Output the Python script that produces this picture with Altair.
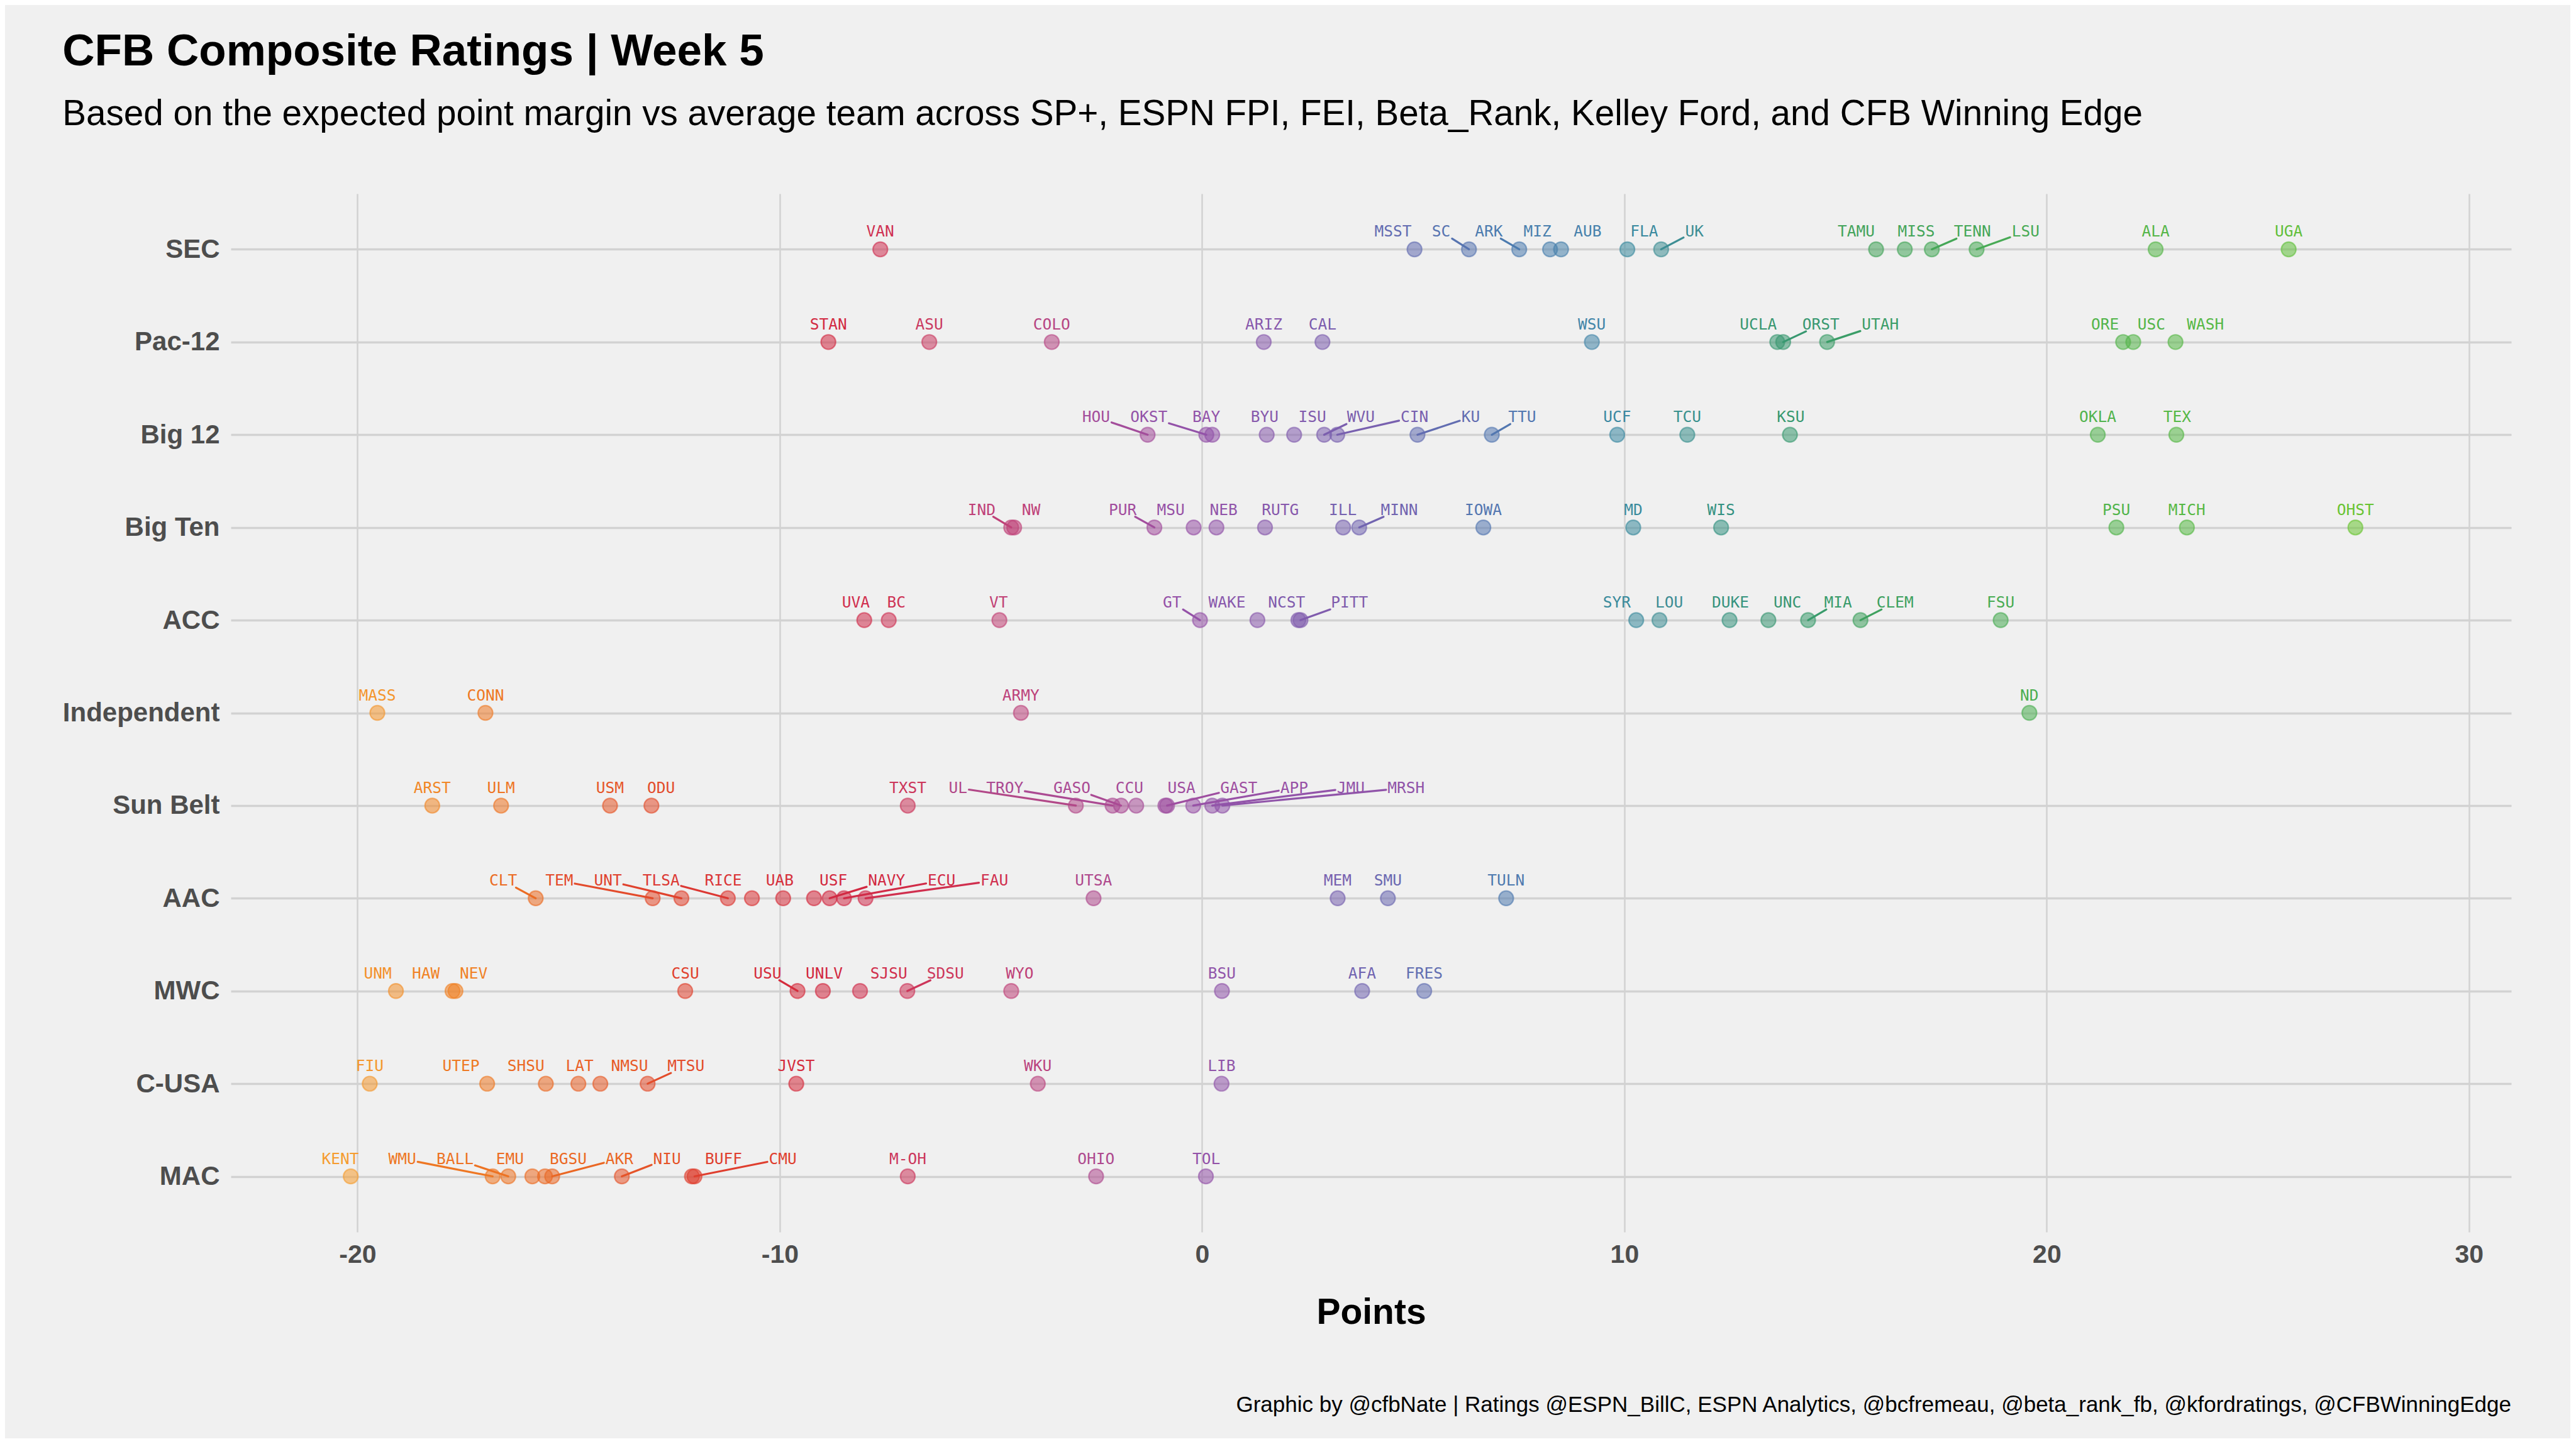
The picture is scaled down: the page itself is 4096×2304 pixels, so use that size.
import altair as alt
import pandas as pd

conferences = ["SEC", "Pac-12", "Big 12", "Big Ten", "ACC", "Independent",
               "Sun Belt", "AAC", "MWC", "C-USA", "MAC"]

teams = [
    # SEC
    "VAN", "MSST", "SC", "ARK", "MIZ", "AUB", "FLA", "UK", "TAMU", "MISS", "TENN", "LSU", "ALA", "UGA",
    # Pac-12
    "STAN", "ASU", "COLO", "ARIZ", "CAL", "WSU", "UCLA", "ORST", "UTAH", "ORE", "USC", "WASH",
    # Big 12
    "HOU", "OKST", "BAY", "BYU", "ISU", "WVU", "CIN", "KU", "TTU", "UCF", "TCU", "KSU", "OKLA", "TEX",
    # Big Ten
    "IND", "NW", "PUR", "MSU", "NEB", "RUTG", "ILL", "MINN", "IOWA", "MD", "WIS", "PSU", "MICH", "OHST",
    # ACC
    "UVA", "BC", "VT", "GT", "WAKE", "NCST", "PITT", "SYR", "LOU", "DUKE", "UNC", "MIA", "CLEM", "FSU",
    # Independent
    "MASS", "CONN", "ARMY", "ND",
    # Sun Belt
    "ARST", "ULM", "USM", "ODU", "TXST", "UL", "TROY", "GASO", "CCU", "USA", "GAST", "APP", "JMU", "MRSH",
    # AAC
    "CLT", "TEM", "UNT", "TLSA", "RICE", "UAB", "USF", "NAVY", "ECU", "FAU", "UTSA", "MEM", "SMU", "TULN",
    # MWC
    "UNM", "HAW", "NEV", "CSU", "USU", "UNLV", "SJSU", "SDSU", "WYO", "BSU", "AFA", "FRES",
    # C-USA
    "FIU", "UTEP", "SHSU", "LAT", "NMSU", "MTSU", "JVST", "WKU", "LIB",
    # MAC
    "KENT", "WMU", "BALL", "EMU", "BGSU", "AKR", "NIU", "BUFF", "CMU", "M-OH", "OHIO", "TOL",
]

team_conf = (["SEC"] * 14 + ["Pac-12"] * 12 + ["Big 12"] * 14 + ["Big Ten"] * 14 +
             ["ACC"] * 14 + ["Independent"] * 4 + ["Sun Belt"] * 14 + ["AAC"] * 14 +
             ["MWC"] * 12 + ["C-USA"] * 9 + ["MAC"] * 12)

ratings = [
    -7.62, 5.03, 6.32, 7.51, 8.24, 8.50, 10.07, 10.87, 15.96, 16.64, 17.28, 18.34, 22.58, 25.73,
    -8.85, -6.46, -3.56, 1.46, 2.85, 9.23, 13.62, 13.76, 14.80, 21.81, 22.05, 23.05,
    -1.29, 0.10, 0.24, 1.53, 2.18, 2.89, 3.20, 5.10, 6.86, 9.83, 11.49, 13.92, 21.21, 23.07,
    -4.52, -4.45, -1.13, -0.20, 0.34, 1.49, 3.34, 3.72, 6.66, 10.21, 12.29, 21.65, 23.32, 27.31,
    -8.00, -7.42, -4.80, -0.05, 1.31, 2.28, 2.33, 10.28, 10.83, 12.49, 13.41, 14.35, 15.59, 18.91,
    -19.53, -16.97, -4.29, 19.59,
    -18.23, -16.60, -14.02, -13.04, -6.97, -2.99, -2.12, -1.92, -1.56, -0.87, -0.83, -0.21, 0.24, 0.48,
    -15.78, -13.01, -12.33, -11.23, -10.66, -9.92, -9.19, -8.82, -8.48, -7.97, -2.57, 3.21, 4.40, 7.20,
    -19.09, -17.75, -17.68, -12.24, -9.58, -8.98, -8.10, -6.98, -4.52, 0.47, 3.79, 5.26,
    -19.71, -16.93, -15.54, -14.77, -14.25, -13.13, -9.61, -3.89, 0.46,
    -20.16, -16.80, -16.43, -15.86, -15.56, -15.39, -13.74, -12.08, -12.02, -6.97, -2.51, 0.09,
]

# repelled label positions (points scale)
label_x = [
    -7.62, 4.52, 5.66, 6.79, 7.94, 9.13, 10.47, 11.66, 15.49, 16.91, 18.24, 19.50, 22.58, 25.73,
    -8.85, -6.46, -3.56, 1.46, 2.85, 9.23, 13.17, 14.65, 16.06, 21.38, 22.48, 23.76,
    -2.51, -1.26, 0.10, 1.48, 2.61, 3.76, 5.03, 6.36, 7.58, 9.83, 11.49, 13.94, 21.21, 23.09,
    -5.22, -4.05, -1.88, -0.74, 0.51, 1.85, 3.33, 4.67, 6.66, 10.21, 12.29, 21.65, 23.32, 27.31,
    -8.20, -7.24, -4.82, -0.71, 0.59, 2.00, 3.49, 9.82, 11.06, 12.51, 13.86, 15.06, 16.41, 18.91,
    -19.53, -16.97, -4.29, 19.59,
    -18.23, -16.60, -14.02, -12.81, -6.97, -5.78, -4.67, -3.08, -1.72, -0.49, 0.87, 2.18, 3.52, 4.83,
    -16.55, -15.22, -14.07, -12.81, -11.34, -10.00, -8.73, -7.47, -6.17, -4.92, -2.57, 3.21, 4.40, 7.20,
    -19.52, -18.38, -17.25, -12.24, -10.29, -8.95, -7.42, -6.08, -4.32, 0.47, 3.79, 5.26,
    -19.71, -17.55, -16.01, -14.74, -13.56, -12.22, -9.61, -3.89, 0.46,
    -20.41, -18.94, -17.69, -16.39, -15.01, -13.80, -12.67, -11.33, -9.93, -6.97, -2.51, 0.10,
]

leader_teams = ["SC", "ARK", "UK", "TENN", "LSU", "ORST", "UTAH", "HOU", "OKST", "WVU", "CIN",
                "KU", "TTU", "IND", "PUR", "MINN", "GT", "PITT", "MIA", "CLEM", "UL", "TROY",
                "GASO", "GAST", "APP", "JMU", "MRSH", "CLT", "TEM", "UNT", "TLSA", "NAVY", "ECU",
                "FAU", "USU", "SDSU", "MTSU", "WMU", "BALL", "AKR", "NIU", "CMU"]

x_ticks = [-20, -10, 0, 10, 20, 30]

color_stops = [-20, -16, -12, -9, -6, -3, 0, 3, 6, 9, 11, 13, 16, 20]
color_range = ["#F59A2E", "#EC6E22", "#DF3E2E", "#D2283F", "#C83E66", "#B24888", "#9452A8",
               "#7A5EAE", "#5A72B0", "#4683AA", "#3F8E92", "#3A9475", "#43A35A", "#4CAF50"]

TITLE = "CFB Composite Ratings | Week 5"
SUBTITLE = ("Based on the expected point margin vs average team across SP+, ESPN FPI, FEI, "
            "Beta_Rank, Kelley Ford, and CFB Winning Edge")
CAPTION = ("Graphic by @cfbNate | Ratings @ESPN_BillC, ESPN Analytics, @bcfremeau, "
           "@beta_rank_fb, @kfordratings, @CFBWinningEdge")

# ---------------------------------------------------------------- layout
W, H = 3626, 1651
X_DOM = [-23, 31]
Y_DOM = [-0.6, len(conferences) - 1 + 0.6]
PX_PT = W / (X_DOM[1] - X_DOM[0])
PX_ROW = H / (Y_DOM[1] - Y_DOM[0])

df = pd.DataFrame({"team": teams, "conf": team_conf, "rating": ratings, "label_x": label_x})
df["row"] = df["conf"].map({c: i for i, c in enumerate(conferences)})

# leader segments: from the label box edge (ggrepel-like) to the point
seg_rows = []
LAB_CY = -28.0   # label centre above point, px
for _, r in df[df["team"].isin(leader_teams)].iterrows():
    dx = (r["rating"] - r["label_x"]) * PX_PT
    hw = len(r["team"]) * 7.2 + 3
    hh = 11.0
    t = hh / -LAB_CY
    if abs(dx) > 1e-6:
        t = min(t, hw / abs(dx))
    sx = r["label_x"] + t * (r["rating"] - r["label_x"])
    sy = LAB_CY + t * (-LAB_CY)
    seg_rows.append({"team": r["team"], "rating": r["rating"], "row": r["row"],
                     "sx": sx, "srow": r["row"] + sy / PX_ROW})
seg = pd.DataFrame(seg_rows)

color_scale = alt.Scale(domain=color_stops, range=color_range)
xs = alt.Scale(domain=X_DOM, nice=False, zero=False)
ys = alt.Scale(domain=Y_DOM, nice=False, zero=False, reverse=True)

label_expr = "[" + ",".join("'%s'" % c for c in conferences) + "][datum.value]"

x_axis = alt.Axis(values=x_ticks, labelExpr="'' + datum.value", title="Points", grid=True,
                  ticks=False, domain=False,
                  labelFont="Liberation Sans", labelFontSize=41, labelFontWeight="bold",
                  labelColor="#4D4D4D", labelPadding=16, titleFont="Liberation Sans",
                  titleFontSize=57, titleFontWeight="bold", titleColor="black",
                  titlePadding=44, gridColor="#D2D2D2", gridWidth=2.5)
y_axis = alt.Axis(values=list(range(len(conferences))), labelExpr=label_expr, title=None,
                  grid=True, ticks=False, domain=False, labelFont="Liberation Sans",
                  labelFontSize=42, labelFontWeight="bold", labelColor="#4D4D4D",
                  labelPadding=18, labelLimit=0, gridColor="#D2D2D2", gridWidth=3.5)

points = alt.Chart(df).mark_circle(size=540, fillOpacity=0.55, strokeWidth=2.2,
                                   strokeOpacity=0.6).encode(
    x=alt.X("rating:Q", scale=xs, axis=x_axis),
    y=alt.Y("row:Q", scale=ys, axis=y_axis),
    color=alt.Color("rating:Q", scale=color_scale, legend=None),
    stroke=alt.Stroke("rating:Q", scale=color_scale, legend=None),
)

lines = alt.Chart(seg).mark_rule(strokeWidth=3.2, strokeCap="round").encode(
    x=alt.X("sx:Q", scale=xs),
    x2="rating:Q",
    y=alt.Y("srow:Q", scale=ys),
    y2="row:Q",
    color=alt.Color("rating:Q", scale=color_scale, legend=None),
)

labels = alt.Chart(df).mark_text(font="DejaVu Sans Mono", fontSize=24.5, baseline="alphabetic",
                                 align="center", dy=-20).encode(
    x=alt.X("label_x:Q", scale=xs),
    y=alt.Y("row:Q", scale=ys),
    text="team:N",
    color=alt.Color("rating:Q", scale=color_scale, legend=None),
)

caption = alt.Chart(pd.DataFrame({"t": [CAPTION]})).mark_text(
    align="right", baseline="alphabetic", font="Liberation Sans", fontSize=35, color="black"
).encode(x=alt.value(W), y=alt.value(H + 286), text="t:N")

chart = alt.layer(points, lines, labels, caption).properties(
    width=W, height=H,
    background="#F0F0F0",
    padding={"left": 91, "top": 39, "right": 94, "bottom": 35},
    title=alt.TitleParams(text=TITLE, subtitle=SUBTITLE, anchor="start", frame="bounds",
                          font="Liberation Sans", fontSize=71, fontWeight="bold", color="black",
                          subtitleFont="Liberation Sans", subtitleFontSize=56.6,
                          subtitleColor="black", subtitlePadding=35, offset=96),
).configure_view(stroke=None)

chart.save("out.html", embed_options={"renderer": "svg", "actions": False})
